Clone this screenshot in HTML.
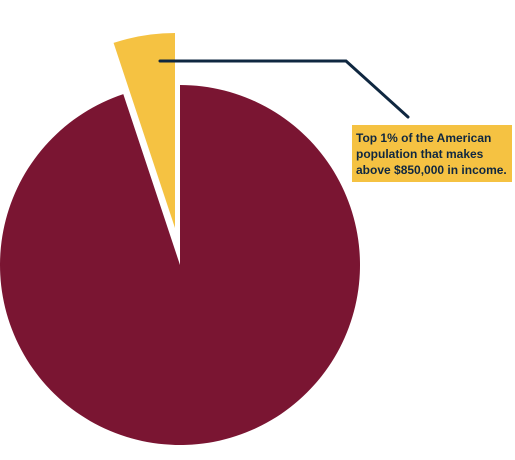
<!DOCTYPE html>
<html><head><meta charset="utf-8"><style>
body{margin:0;width:515px;height:455px;background:#fff;overflow:hidden;font-family:"Liberation Sans",sans-serif}
</style></head><body>
<svg id="chart" width="515" height="455" viewBox="0 0 515 455" xmlns="http://www.w3.org/2000/svg">
<g id="slices"></g>
<polyline points="160,61 346,61 408,117" fill="none" stroke="#0f2740" stroke-width="3" stroke-linecap="round"/>
<rect x="352" y="125" width="160" height="57" fill="#f5c242"/>
<text font-size="12" font-weight="bold" fill="#0f2740">
<tspan x="356" y="142">Top 1% of the American</tspan>
<tspan x="356" y="158">population that makes</tspan>
<tspan x="356" y="174">above $850,000 in income.</tspan>
</text>
</svg>
<script>
const categories = ["rest", "top-1-percent"];
const values = [94.9, 5.1];
const colors = ["#7a1532", "#f5c242"];
const centers = [[180,265,180],[175,228,195]];
const g = document.getElementById('slices');
const total = values.reduce((a,b)=>a+b,0);
let start = 0;
values.forEach((v,i)=>{
  const a0 = start/total*2*Math.PI, a1 = (start+v)/total*2*Math.PI;
  start += v;
  const [cx,cy,r] = centers[i];
  const x0 = cx + r*Math.sin(a0), y0 = cy - r*Math.cos(a0);
  const x1 = cx + r*Math.sin(a1), y1 = cy - r*Math.cos(a1);
  const large = (a1-a0) > Math.PI ? 1 : 0;
  const p = document.createElementNS('http://www.w3.org/2000/svg','path');
  p.setAttribute('d', `M${cx},${cy} L${x0},${y0} A${r},${r} 0 ${large} 1 ${x1},${y1} Z`);
  p.setAttribute('fill', colors[i]);
  
  
  g.appendChild(p);
});
</script>
</body></html>
